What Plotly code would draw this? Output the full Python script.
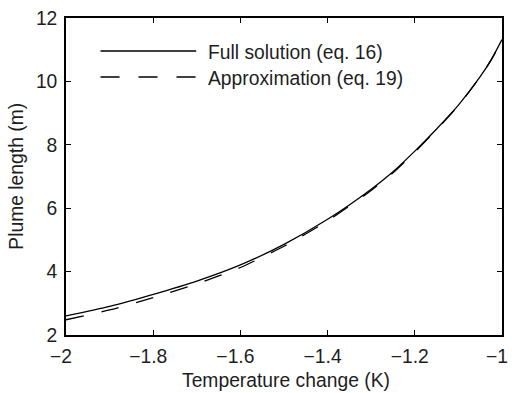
import plotly.graph_objects as go

# Temperature change (K) and plume length (m) for the two solutions
temperature_change = [-2.0, -1.9, -1.8, -1.7, -1.6, -1.5, -1.4, -1.3, -1.25, -1.2,
                      -1.15, -1.1, -1.05, -1.025, -1.0]
full_solution = [2.60, 2.90, 3.28, 3.70, 4.21, 4.86, 5.65, 6.60, 7.15, 7.80,
                 8.50, 9.25, 10.15, 10.68, 11.32]
approximation = [2.48, 2.79, 3.18, 3.61, 4.13, 4.80, 5.60, 6.56, 7.12, 7.77,
                 8.48, 9.24, 10.14, 10.67, 11.31]

x_ticks = [-2, -1.8, -1.6, -1.4, -1.2, -1]
y_ticks = [2, 4, 6, 8, 10, 12]

series_names = ["Full solution (eq. 16)", "Approximation (eq. 19)"]

W, H = 512, 393
ML, MR, MT, MB = 66, 4, 18, 58
PW, PH = W - ML - MR, H - MT - MB
FONT = "Liberation Sans, Arial, Helvetica, sans-serif"
FS = 19.3
INK = "#1e1e1e"
DASH = "18px,18px"


def px(xp):
    return (xp - ML) / PW


def py(yp):
    return (H - MB - yp) / PH


fig = go.Figure()
fig.add_trace(go.Scatter(
    x=temperature_change, y=full_solution, mode="lines", name=series_names[0],
    line=dict(color="black", width=1.3, shape="spline", smoothing=0.6),
    showlegend=False,
))
fig.add_trace(go.Scatter(
    x=temperature_change, y=approximation, mode="lines", name=series_names[1],
    line=dict(color="black", width=1.3, dash=DASH, shape="spline", smoothing=0.6),
    showlegend=False,
))

axis_common = dict(
    showgrid=False, zeroline=False, showline=True, linecolor="black", linewidth=1.6,
    mirror="ticks", ticks="inside", ticklen=5, tickwidth=1, tickcolor="black",
    tickfont=dict(family=FONT, size=FS, color=INK),
)

fig.update_xaxes(range=[-2, -1], tickvals=x_ticks,
                 ticktext=[f"\u2212{abs(v):g}" for v in x_ticks],
                 ticklabelshift=-5, ticklabelstandoff=3, **axis_common)
fig.update_yaxes(range=[2, 12], tickvals=y_ticks,
                 ticktext=[str(v) for v in y_ticks],
                 ticklabelstandoff=3, **axis_common)

# Hand-drawn legend: long sample lines with labels to their right
legend_rows = [(51, "solid"), (77, "19px,19px")]
for (ly, dash), name in zip(legend_rows, series_names):
    fig.add_shape(type="line", xref="paper", yref="paper",
                  x0=px(101), x1=px(198), y0=py(ly), y1=py(ly),
                  line=dict(color="black", width=1.3, dash=dash))
    fig.add_annotation(xref="paper", yref="paper", x=px(208), y=py(ly + 1),
                       xanchor="left", yanchor="middle", showarrow=False,
                       text=name, font=dict(family=FONT, size=FS, color=INK))

# Axis titles
fig.add_annotation(xref="paper", yref="paper", x=px(289), y=py(380),
                   xanchor="center", yanchor="middle", showarrow=False,
                   text="Temperature change (K)",
                   font=dict(family=FONT, size=FS, color=INK))
fig.add_annotation(xref="paper", yref="paper", x=px(15), y=py(176),
                   xanchor="center", yanchor="middle", showarrow=False,
                   textangle=-90, text="Plume length (m)",
                   font=dict(family=FONT, size=FS, color=INK))

fig.update_layout(
    width=W, height=H,
    margin=dict(l=ML, r=MR, t=MT, b=MB),
    paper_bgcolor="white", plot_bgcolor="white",
    font=dict(family=FONT, color=INK),
)

fig.write_html("out.html")
